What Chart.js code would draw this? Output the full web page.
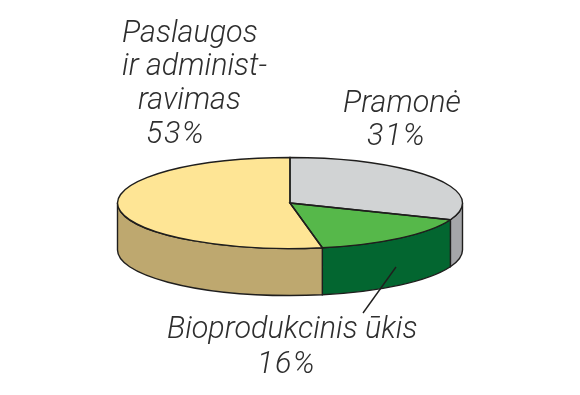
<!DOCTYPE html>
<html>
<head>
<meta charset="utf-8">
<style>
  html, body { margin: 0; background: #fff; }
</style>
<script src="https://cdn.jsdelivr.net/npm/chart.js@4"></script>
</head>
<body>
<canvas id="pie-chart" width="580" height="395"></canvas>
<script>
// Slice data, clockwise from the top of the pie
const categories = ['Pramonė', 'Bioprodukcinis ūkis', 'Paslaugos ir administravimas'];
const shares = [31, 16, 53];
const topColors = ['#d1d3d4', '#56b84a', '#fee595'];
const sideColors = ['#a5a6a9', '#036630', '#bea86f'];

// Text as it is broken in the picture: [text, x, baseline, letter spacing]
const labelLines = [
  ['Paslaugos', 122, 42, 0],
  ['ir administ-', 122, 75, 0],
  ['ravimas', 138, 109, 0],
  [shares[2] + '%', 146, 143, 1.5],
  [categories[0], 343, 112, 0],
  [shares[0] + '%', 367, 145, 1.5],
  ['Bioprodukcinis ūkis', 167, 338, 0],
  [shares[1] + '%', 257, 373, 1.5],
];

const squash = 0.264; // height / width of the tilted top
const depth = 47;     // wall height
const outline = '#1f1e1d';

// Walls and outlines are taken from the arc elements the pie layout computed
function wallPath(ctx, arc, a0, a1) {
  const ry = arc.outerRadius * squash;
  ctx.beginPath();
  ctx.ellipse(arc.x, arc.y, arc.outerRadius, ry, 0, a0, a1);
  ctx.ellipse(arc.x, arc.y + depth, arc.outerRadius, ry, 0, a1, a0, true);
  ctx.closePath();
}

const tiltedPie = {
  id: 'tiltedPie',
  beforeDatasetsDraw(chart) {
    const ctx = chart.ctx;
    const arcs = chart.getDatasetMeta(0).data;
    ctx.save();
    ctx.lineWidth = 1.4;
    ctx.strokeStyle = outline;
    arcs.forEach((arc, i) => {
      // only the part of the rim facing the viewer (0..PI on the canvas)
      const a0 = Math.max(arc.startAngle, 0);
      const a1 = Math.min(arc.endAngle, Math.PI);
      if (a1 <= a0) return;
      wallPath(ctx, arc, a0, a1);
      ctx.fillStyle = sideColors[i];
      ctx.fill();
      ctx.stroke();
    });
    ctx.restore();
    // pie itself is drawn squashed
    const first = arcs[0];
    ctx.save();
    ctx.translate(first.x, first.y);
    ctx.scale(1, squash);
    ctx.translate(-first.x, -first.y);
  },
  afterDatasetsDraw(chart) {
    const ctx = chart.ctx;
    ctx.restore();
    ctx.save();
    ctx.lineWidth = 1.4;
    ctx.strokeStyle = outline;
    chart.getDatasetMeta(0).data.forEach((arc) => {
      const ry = arc.outerRadius * squash;
      ctx.beginPath();
      ctx.moveTo(arc.x, arc.y);
      ctx.ellipse(arc.x, arc.y, arc.outerRadius, ry, 0, arc.startAngle, arc.endAngle);
      ctx.closePath();
      ctx.stroke();
    });
    // leader line for the green slice
    ctx.beginPath();
    ctx.moveTo(396, 267);
    ctx.lineTo(363, 313);
    ctx.stroke();
    // labels
    ctx.font = 'italic 300 30.5px Roboto, "Liberation Sans", sans-serif';
    ctx.fillStyle = '#2e2e2e';
    ctx.textAlign = 'left';
    ctx.textBaseline = 'alphabetic';
    labelLines.forEach(([text, x, y, spacing]) => {
      ctx.letterSpacing = spacing + 'px';
      ctx.fillText(text, x, y);
    });
    ctx.restore();
  },
};

const chartCanvas = document.querySelector('#pie-chart');

new Chart(chartCanvas, {
  type: 'pie',
  data: {
    labels: categories,
    datasets: [{
      data: shares,
      backgroundColor: topColors,
      borderWidth: 0,
    }],
  },
  options: {
    responsive: false,
    animation: false,
    radius: 172.5,
    layout: { padding: { top: 11 } },
    plugins: {
      legend: { display: false },
      tooltip: { enabled: false },
    },
  },
  plugins: [tiltedPie],
});
</script>
</body>
</html>
